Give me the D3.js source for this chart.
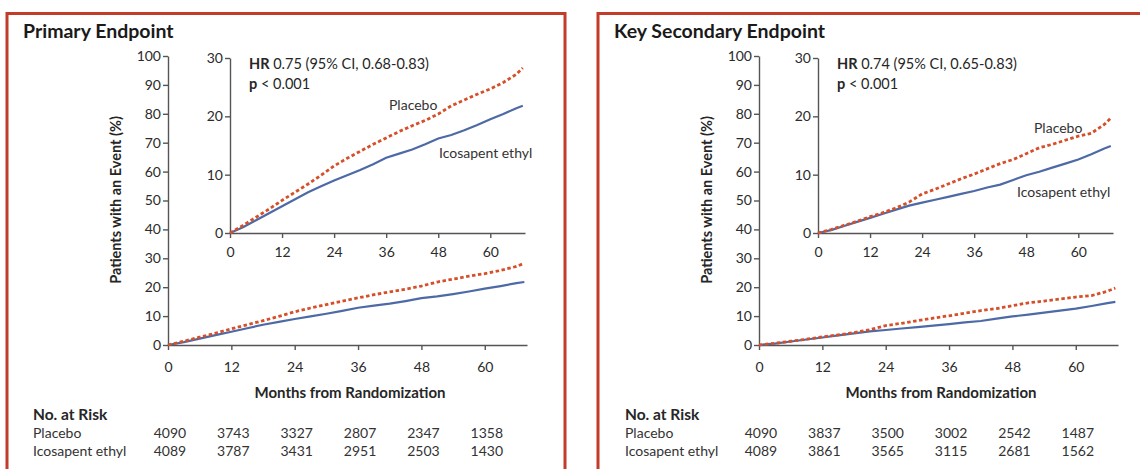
<!DOCTYPE html>
<html>
<head>
<meta charset="utf-8">
<script src="https://cdn.jsdelivr.net/npm/d3@7"></script>
<style>
  body { margin: 0; background: #fff; }
  svg { display: block; font-family: Lato, "Open Sans", sans-serif; }
  .axis path, .axis line { stroke: #555; stroke-width: 1.4; }
  .axis text { fill: #2b2b2b; font-size: 14px; font-family: Lato, sans-serif; }
</style>
</head>
<body>
<svg width="1140" height="469"></svg>
<script>
const months = [0, 3, 6, 9, 12, 15, 18, 21, 24, 27, 30, 33, 36, 39, 42, 45, 48, 51, 54, 57, 60, 63, 66, 67.5];

// primary endpoint (%)
const primaryPlacebo = [0, 1.3, 2.7, 4.1, 5.6, 7.0, 8.4, 9.9, 11.5, 12.8, 14.0, 15.2, 16.3, 17.4, 18.4, 19.3, 20.4, 21.8, 22.8, 23.8, 24.7, 25.8, 27.2, 28.3];
const primaryIcosapent = [0, 1.0, 2.2, 3.4, 4.6, 5.8, 7.0, 8.0, 9.0, 9.9, 10.8, 11.8, 12.9, 13.6, 14.3, 15.2, 16.2, 16.8, 17.6, 18.5, 19.5, 20.4, 21.4, 21.8];

// key secondary endpoint (%)
const secondaryPlacebo = [0, 0.6, 1.3, 2.0, 2.8, 3.5, 4.3, 5.3, 6.7, 7.5, 8.4, 9.3, 10.1, 11.0, 11.9, 12.6, 13.6, 14.6, 15.2, 15.9, 16.6, 17.1, 18.6, 19.7];
const secondaryIcosapent = [0, 0.5, 1.2, 1.9, 2.6, 3.3, 4.0, 4.7, 5.2, 5.7, 6.2, 6.7, 7.2, 7.8, 8.3, 9.1, 9.9, 10.5, 11.2, 11.9, 12.6, 13.5, 14.5, 14.9];

// number at risk
const riskMonths = [0, 12, 24, 36, 48, 60];
const primaryRiskPlacebo = [4090, 3743, 3327, 2807, 2347, 1358];
const primaryRiskIcosapent = [4089, 3787, 3431, 2951, 2503, 1430];
const secondaryRiskPlacebo = [4090, 3837, 3500, 3002, 2542, 1487];
const secondaryRiskIcosapent = [4089, 3861, 3565, 3115, 2681, 1562];

const mainYTicks = d3.range(0, 101, 10);
const insetYTicks = [0, 10, 20, 30];
const xTicks = [0, 12, 24, 36, 48, 60];

const red = "#d5502a";
const blue = "#4d69a6";
const ink = "#262626";

let svg = d3.select("svg");

function drawPanel(opts) {
    let g = svg.append("g")
        .attr("transform", `translate(${opts.dx}, 0)`);

    // frame
    g.append("rect")
        .attr("x", 7)
        .attr("y", 13.5)
        .attr("width", opts.frameW)
        .attr("height", 480)
        .attr("fill", "none")
        .attr("stroke", "#c23b2b")
        .attr("stroke-width", 3);

    g.append("text")
        .attr("x", 23)
        .attr("y", 38)
        .style("font-weight", "bold")
        .style("font-size", "19.5px")
        .style("fill", "#1a1a1a")
        .text(opts.title);

    let placebo = months.map((m, i) => ({ m: m, v: opts.placebo[i] }));
    let icosa = months.map((m, i) => ({ m: m, v: opts.icosa[i] }));

    // ---- main plot
    let x = d3.scaleLinear().domain([0, 68]).range([168, 527]);
    let y = d3.scaleLinear().domain([0, 100]).range([345, 56]);

    g.append("g")
        .attr("class", "axis")
        .attr("transform", "translate(168, 0)")
        .call(d3.axisLeft(y).tickValues(mainYTicks).tickSize(5).tickSizeOuter(0).tickPadding(2));

    g.append("g")
        .attr("class", "axis")
        .attr("transform", "translate(0, 345)")
        .call(d3.axisBottom(x).tickValues(xTicks).tickSize(5).tickSizeOuter(0).tickPadding(12));

    let line = d3.line()
        .x(d => x(d.m))
        .y(d => y(d.v));

    g.append("path").datum(icosa)
        .attr("d", line).attr("fill", "none")
        .attr("stroke", blue).attr("stroke-width", 2.2);
    g.append("path").datum(placebo)
        .attr("d", line).attr("fill", "none")
        .attr("stroke", red).attr("stroke-width", 2.8)
        .attr("stroke-dasharray", "3.5,2.5");

    g.append("text")
        .attr("transform", "translate(121, 200) rotate(-90)")
        .attr("text-anchor", "middle")
        .style("font-weight", "bold")
        .style("font-size", "14.5px")
        .style("fill", ink)
        .text("Patients with an Event (%)");

    g.append("text")
        .attr("x", 350)
        .attr("y", 398)
        .attr("text-anchor", "middle")
        .style("font-weight", "bold")
        .style("font-size", "15px")
        .style("fill", ink)
        .text("Months from Randomization");

    // ---- inset
    let xi = d3.scaleLinear().domain([0, 68]).range([opts.insetX, opts.insetX + 295]);
    let yi = d3.scaleLinear().domain([0, 30]).range([233, 58]);

    g.append("g")
        .attr("class", "axis")
        .attr("transform", `translate(${opts.insetX}, 0)`)
        .call(d3.axisLeft(yi).tickValues(insetYTicks).tickSize(5).tickSizeOuter(0).tickPadding(2));

    g.append("g")
        .attr("class", "axis")
        .attr("transform", "translate(0, 233)")
        .call(d3.axisBottom(xi).tickValues(xTicks).tickSize(5).tickSizeOuter(0).tickPadding(9));

    let lineInset = d3.line()
        .x(d => xi(d.m))
        .y(d => yi(d.v));

    g.append("path").datum(icosa)
        .attr("d", lineInset).attr("fill", "none")
        .attr("stroke", blue).attr("stroke-width", 2.2);
    g.append("path").datum(placebo)
        .attr("d", lineInset).attr("fill", "none")
        .attr("stroke", red).attr("stroke-width", 2.8)
        .attr("stroke-dasharray", "3.5,2.5");

    let hr = g.append("text")
        .attr("x", opts.insetX + 19)
        .attr("y", 69)
        .style("font-size", "14.5px")
        .style("fill", ink);
    hr.append("tspan").style("font-weight", "bold").text("HR");
    hr.append("tspan").text(" " + opts.hr);

    let p = g.append("text")
        .attr("x", opts.insetX + 19)
        .attr("y", 89)
        .style("font-size", "14.5px")
        .style("fill", ink);
    p.append("tspan").style("font-weight", "bold").text("p");
    p.append("tspan").text(" < 0.001");

    g.append("text")
        .attr("x", opts.placeboLabel[0])
        .attr("y", opts.placeboLabel[1])
        .style("font-size", "14px")
        .style("fill", "#333")
        .text("Placebo");

    g.append("text")
        .attr("x", opts.icosaLabel[0])
        .attr("y", opts.icosaLabel[1])
        .style("font-size", "14px")
        .style("fill", "#333")
        .text("Icosapent ethyl");

    // ---- number at risk
    g.append("text")
        .attr("x", opts.riskX)
        .attr("y", 420)
        .style("font-weight", "bold")
        .style("font-size", "15.5px")
        .style("fill", ink)
        .text("No. at Risk");

    let rows = [
        { name: "Placebo", vals: opts.riskPlacebo, y: 438 },
        { name: "Icosapent ethyl", vals: opts.riskIcosa, y: 456 }
    ];
    rows.forEach(r => {
        g.append("text")
            .attr("x", opts.riskX)
            .attr("y", r.y)
            .style("font-size", "14px")
            .style("fill", "#333")
            .text(r.name);
        g.selectAll(null)
            .data(r.vals)
            .enter().append("text")
            .attr("x", (d, i) => x(riskMonths[i]) + 2)
            .attr("y", r.y)
            .attr("text-anchor", "middle")
            .style("font-size", "14px")
            .style("fill", "#333")
            .text(d => d);
    });
}

drawPanel({
    dx: 0,
    frameW: 558,
    title: "Primary Endpoint",
    placebo: primaryPlacebo,
    icosa: primaryIcosapent,
    insetX: 230,
    hr: "0.75 (95% CI, 0.68-0.83)",
    placeboLabel: [389, 110],
    icosaLabel: [439, 158],
    riskX: 33,
    riskPlacebo: primaryRiskPlacebo,
    riskIcosa: primaryRiskIcosapent
});

drawPanel({
    dx: 591,
    frameW: 560,
    title: "Key Secondary Endpoint",
    placebo: secondaryPlacebo,
    icosa: secondaryIcosapent,
    insetX: 227,
    hr: "0.74 (95% CI, 0.65-0.83)",
    placeboLabel: [443, 133],
    icosaLabel: [426, 197],
    riskX: 34,
    riskPlacebo: secondaryRiskPlacebo,
    riskIcosa: secondaryRiskIcosapent
});
</script>
</body>
</html>
